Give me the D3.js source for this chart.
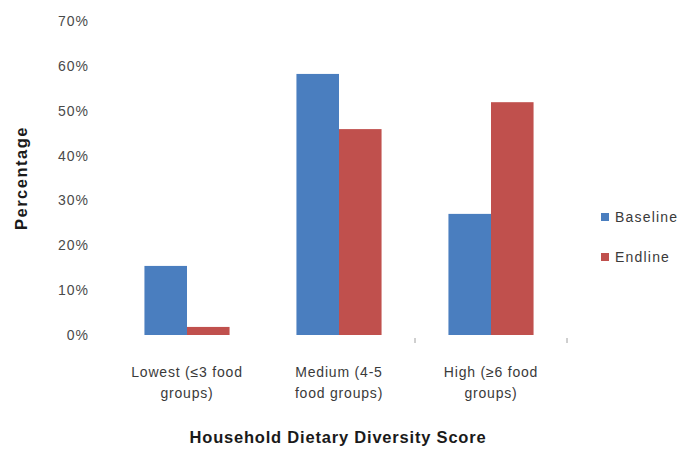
<!DOCTYPE html>
<html>
<head>
<meta charset="utf-8">
<script src="https://cdn.jsdelivr.net/npm/d3@7"></script>
<style>
  html, body { margin: 0; padding: 0; background: #fff; }
  svg text { font-family: "Liberation Sans", "DejaVu Sans", sans-serif; }
</style>
</head>
<body>
<svg id="chart" width="694" height="454"></svg>
<script>
// Share of households by dietary diversity level, baseline vs endline
const categories = [
  ["Lowest (≤3 food", "groups)"],
  ["Medium (4-5", "food groups)"],
  ["High (≥6 food", "groups)"]
];
const seriesNames = ["Baseline", "Endline"];
const baseline = [15.4, 58.2, 27.0];
const endline = [1.8, 45.9, 51.9];
const yTicks = [0, 10, 20, 30, 40, 50, 60, 70];
const colors = ["#4a7ebf", "#c0504d"];

const svg = d3.select("#chart");
const margin = { left: 111, right: 127, top: 21, bottom: 119 };
const width = 694 - margin.left - margin.right;
const height = 454 - margin.top - margin.bottom;
const g = svg.append("g").attr("transform", `translate(${margin.left},${margin.top})`);

const x0 = d3.scaleBand().domain(d3.range(categories.length)).range([0, width]).paddingInner(0).paddingOuter(0);
const x1 = d3.scaleBand().domain(seriesNames).range([x0.bandwidth() * 0.22, x0.bandwidth() * 0.78]).padding(0);
const y = d3.scaleLinear().domain([0, 70]).range([height, 0]);

// y axis labels only (no line, no ticks)
const yAxis = d3.axisLeft(y).tickValues(yTicks).tickFormat(d => d + "%").tickSize(0).tickPadding(0);
const ya = g.append("g").attr("transform", "translate(-22,0)").call(yAxis);
ya.select(".domain").remove();
ya.selectAll("text").attr("fill", "#4a4a4a").attr("font-size", 14).attr("letter-spacing", 1);

// bars
const rows = categories.map((c, i) => ({ i, values: [baseline[i], endline[i]] }));
const grp = g.selectAll(".grp").data(rows).join("g")
  .attr("transform", d => `translate(${x0(d.i)},0)`);
grp.selectAll("rect").data(d => d.values.map((v, k) => ({ k, v })))
  .join("rect")
  .attr("x", d => x1(seriesNames[d.k]))
  .attr("width", x1.bandwidth())
  .attr("y", d => y(d.v))
  .attr("height", d => height - y(d.v))
  .attr("fill", d => colors[d.k]);

// small category separator ticks below the baseline
g.selectAll(".sep").data([1, 2]).join("line")
  .attr("x1", d => x0(d) + x0.bandwidth()).attr("x2", d => x0(d) + x0.bandwidth())
  .attr("y1", height + 3).attr("y2", height + 8)
  .attr("stroke", "#a0a0a0").attr("stroke-width", 1);

// category labels (two lines)
const cl = g.selectAll(".cat").data(categories).join("text")
  .attr("text-anchor", "middle")
  .attr("fill", "#3a3a3a").attr("font-size", 14).attr("letter-spacing", 0.8)
  .attr("transform", (d, i) => `translate(${x0(i) + x0.bandwidth() / 2},${height + 42})`);
cl.selectAll("tspan").data(d => d).join("tspan")
  .attr("x", 0).attr("dy", (d, j) => j === 0 ? 0 : 21).text(d => d);

// axis titles
svg.append("text").attr("x", 338).attr("y", 443).attr("text-anchor", "middle")
  .attr("font-size", 16.5).attr("font-weight", "bold").attr("fill", "#1a1a1a").attr("letter-spacing", 0.8)
  .text("Household Dietary Diversity Score");
svg.append("text").attr("transform", "translate(27,178) rotate(-90)").attr("text-anchor", "middle")
  .attr("font-size", 16.5).attr("font-weight", "bold").attr("fill", "#1a1a1a").attr("letter-spacing", 1.5)
  .text("Percentage");

// legend
const lg = svg.append("g").attr("transform", "translate(601,217)");
const li = lg.selectAll("g").data(seriesNames).join("g")
  .attr("transform", (d, i) => `translate(0,${i * 40})`);
li.append("rect").attr("x", 0).attr("y", -4).attr("width", 8).attr("height", 8)
  .attr("fill", (d, i) => colors[i]);
li.append("text").attr("x", 14).attr("y", 5).attr("font-size", 14).attr("letter-spacing", 1.2)
  .attr("fill", "#3a3a3a").text(d => d);
</script>
</body>
</html>
